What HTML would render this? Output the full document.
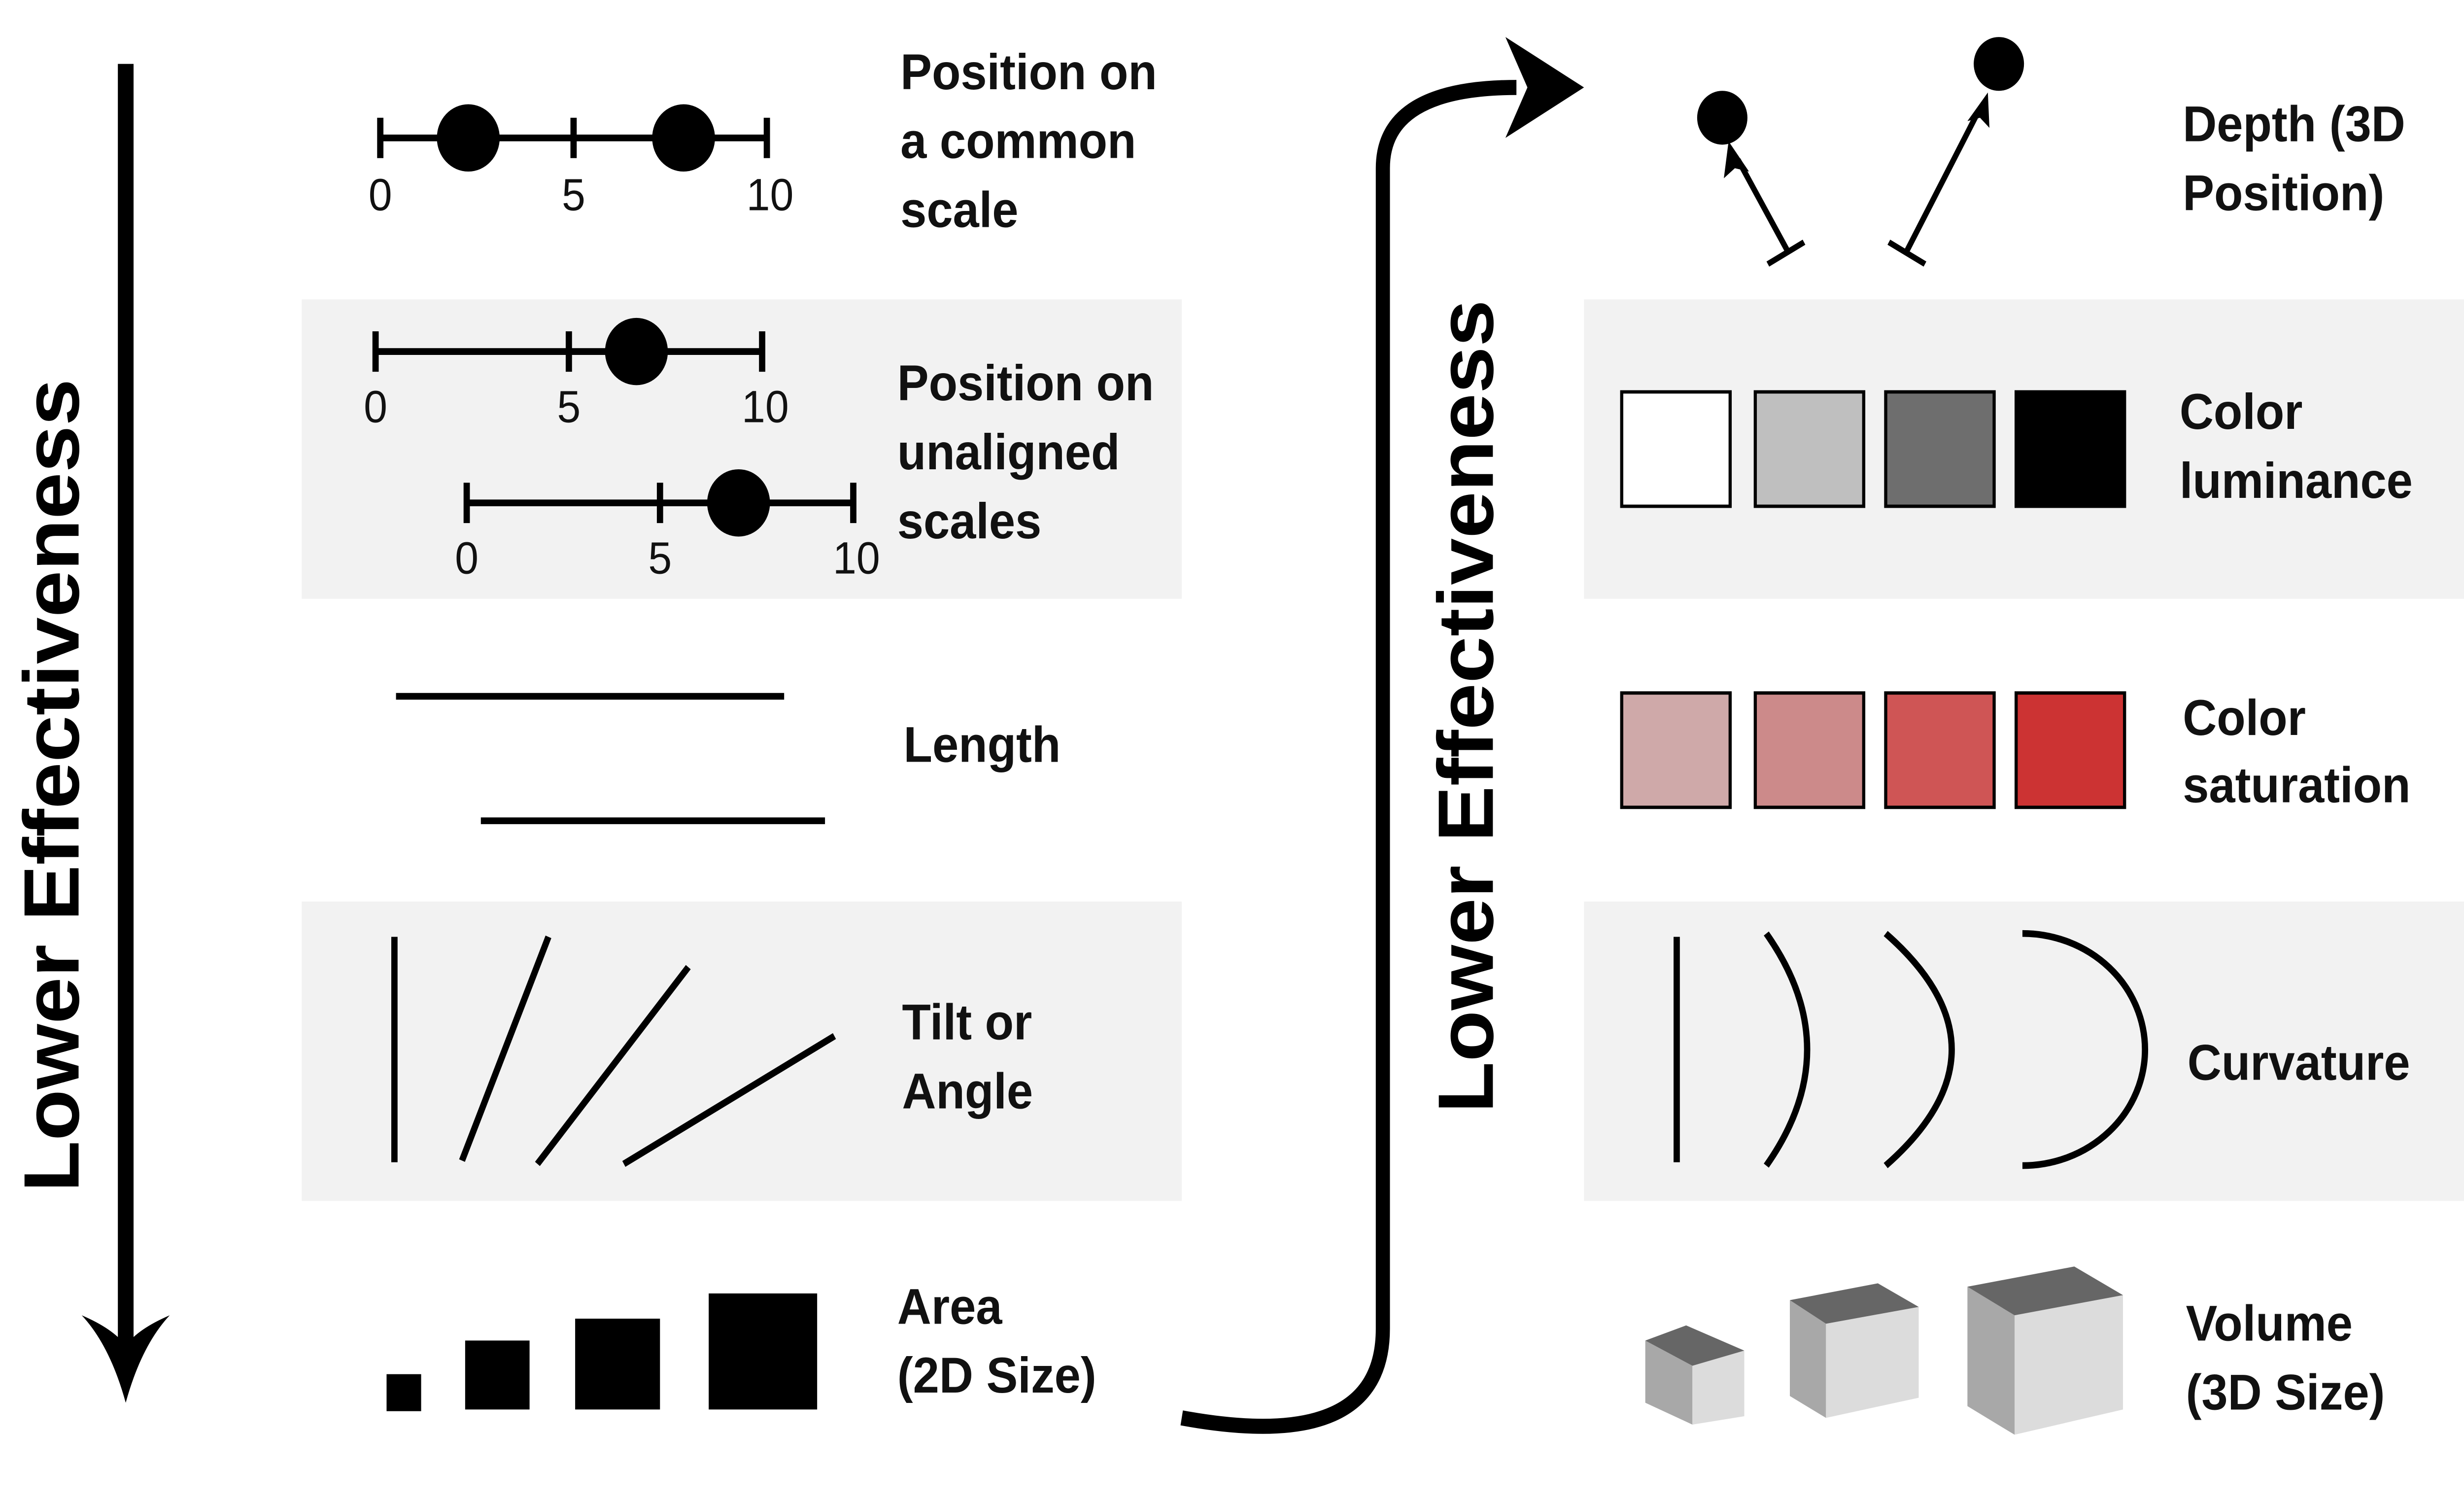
<!DOCTYPE html>
<html><head><meta charset="utf-8"><style>
html,body{margin:0;padding:0;background:#fff;width:100%;height:100%;overflow:hidden;}
svg{display:block;width:100vw;height:100vh;}
text{font-family:"Liberation Sans",sans-serif;}
.l{font-size:30px;font-weight:bold;fill:#111;}
.n{font-size:27px;fill:#111;}
</style></head><body>
<svg viewBox="0 0 1568 893" preserveAspectRatio="none" xmlns="http://www.w3.org/2000/svg">
<rect width="1568" height="893" fill="#fff"/>
<g fill="#f2f2f2">
<rect x="192" y="178" width="560" height="178"/>
<rect x="192" y="536" width="560" height="178"/>
<rect x="1008" y="178" width="560" height="178"/>
<rect x="1008" y="536" width="560" height="178"/>
</g>
<line x1="80" y1="38" x2="80" y2="815" stroke="#000" stroke-width="10"/>
<path d="M80,834 Q70,800 52,782 Q72,790 80,800 Q88,790 108,782 Q90,800 80,834Z" fill="#000"/>
<text transform="translate(50,467) rotate(-90)" text-anchor="middle" style="font-size:50px;font-weight:bold;fill:#000">Lower Effectiveness</text>
<g stroke="#000" stroke-width="4">
<line x1="242" y1="82" x2="488" y2="82"/><line x1="242" y1="70" x2="242" y2="94"/><line x1="365" y1="70" x2="365" y2="94"/><line x1="488" y1="70" x2="488" y2="94"/>
<line x1="239" y1="209" x2="485" y2="209"/><line x1="239" y1="197" x2="239" y2="221"/><line x1="362" y1="197" x2="362" y2="221"/><line x1="485" y1="197" x2="485" y2="221"/>
<line x1="297" y1="299" x2="543" y2="299"/><line x1="297" y1="287" x2="297" y2="311"/><line x1="420" y1="287" x2="420" y2="311"/><line x1="543" y1="287" x2="543" y2="311"/>
<line x1="252" y1="414" x2="499" y2="414"/><line x1="306" y1="488" x2="525" y2="488"/>
<line x1="251" y1="557" x2="251" y2="691"/><line x1="349" y1="557" x2="294" y2="690"/><line x1="438" y1="575" x2="342" y2="692"/><line x1="531" y1="616" x2="397" y2="692"/>
</g>
<g fill="#000"><circle cx="298" cy="82" r="20"/><circle cx="435" cy="82" r="20"/><circle cx="405" cy="209" r="20"/><circle cx="470" cy="299" r="20"/>
<rect x="246" y="817" width="22" height="22"/><rect x="296" y="797" width="41" height="41"/><rect x="366" y="784" width="54" height="54"/><rect x="451" y="769" width="69" height="69"/></g>
<g class="n" text-anchor="middle">
<text x="242" y="125">0</text><text x="365" y="125">5</text><text x="490" y="125">10</text>
<text x="239" y="251">0</text><text x="362" y="251">5</text><text x="487" y="251">10</text>
<text x="297" y="341">0</text><text x="420" y="341">5</text><text x="545" y="341">10</text>
</g>
<g class="l">
<text x="573" y="53">Position on</text><text x="573" y="94">a common</text><text x="573" y="135">scale</text>
<text x="571" y="238">Position on</text><text x="571" y="279">unaligned</text><text x="571" y="320">scales</text>
<text x="575" y="453">Length</text>
<text x="574" y="618">Tilt or</text><text x="574" y="659">Angle</text>
<text x="571" y="787">Area</text><text x="571" y="828">(2D Size)</text>
<text x="1389" y="84">Depth (3D</text><text x="1389" y="125">Position)</text>
<text x="1387" y="255">Color</text><text x="1387" y="296">luminance</text>
<text x="1389" y="437">Color</text><text x="1389" y="477">saturation</text>
<text x="1392" y="642">Curvature</text>
<text x="1391" y="797">Volume</text><text x="1391" y="838">(3D Size)</text>
</g>
<path d="M752,843 Q880,865 880,790 L880,100 Q880,52 965,52" fill="none" stroke="#000" stroke-width="9"/>
<path d="M1008,52 L958,22 L972,52 L958,82Z" fill="#000"/>
<text transform="translate(950,420) rotate(-90)" text-anchor="middle" style="font-size:50px;font-weight:bold;fill:#000">Lower Effectiveness</text>
<circle cx="1096" cy="70" r="16" fill="#000"/><circle cx="1272" cy="38" r="16" fill="#000"/>
<g stroke="#000" stroke-width="3.5">
<line x1="1138" y1="150" x2="1106" y2="95"/><line x1="1125" y1="157" x2="1148" y2="144"/>
<line x1="1213" y1="150" x2="1258" y2="68"/><line x1="1202" y1="144" x2="1225" y2="157"/>
</g>
<path d="M1100,84 L1097,106 L1104,100 L1113,102Z" fill="#000"/>
<path d="M1265,55 L1252,72 L1260,70 L1266,76Z" fill="#000"/>
<g stroke="#000" stroke-width="2">
<rect x="1032" y="233" width="69" height="68" fill="#fff"/><rect x="1117" y="233" width="69" height="68" fill="#bfbfbf"/>
<rect x="1200" y="233" width="69" height="68" fill="#6e6e6e"/><rect x="1283" y="233" width="69" height="68" fill="#000"/>
<rect x="1032" y="412" width="69" height="68" fill="#cfa9a9"/><rect x="1117" y="412" width="69" height="68" fill="#cc8a8a"/>
<rect x="1200" y="412" width="69" height="68" fill="#cf5555"/><rect x="1283" y="412" width="69" height="68" fill="#cc3333"/>
</g>
<g stroke="#000" stroke-width="4" fill="none">
<line x1="1067" y1="557" x2="1067" y2="691"/>
<path d="M1124,555 Q1176,624 1124,693"/>
<path d="M1200,555 Q1284,624 1200,693"/>
<path d="M1287,555 A78,69 0 0 1 1287,693"/>
</g>
<g>
<polygon points="1047,797 1077,812 1077,847 1047,834" fill="#a8a8a8"/>
<polygon points="1077,812 1110,803 1110,842 1077,847" fill="#dcdcdc"/>
<polygon points="1047,797 1073,788 1110,803 1077,812" fill="#666"/>
<polygon points="1139,773 1162,787 1162,843 1139,830" fill="#a8a8a8"/>
<polygon points="1162,787 1221,777 1221,831 1162,843" fill="#dcdcdc"/>
<polygon points="1139,773 1195,763 1221,777 1162,787" fill="#666"/>
<polygon points="1252,765 1282,782 1282,853 1252,836" fill="#a8a8a8"/>
<polygon points="1282,782 1351,770 1351,838 1282,853" fill="#dcdcdc"/>
<polygon points="1252,765 1320,753 1351,770 1282,782" fill="#666"/>
</g>
</svg>
</body></html>
